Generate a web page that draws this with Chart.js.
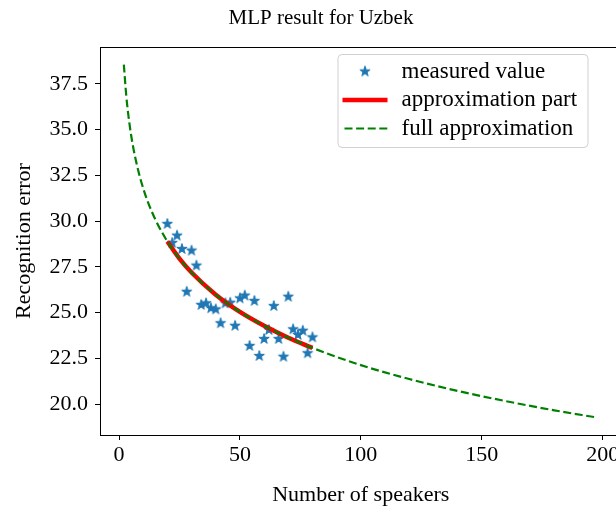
<!DOCTYPE html>
<html><head><meta charset="utf-8">
<script src="https://cdn.jsdelivr.net/npm/chart.js@4/dist/chart.umd.min.js"></script>
<style>
html,body{margin:0;padding:0;background:#fff;overflow:hidden;width:616px;height:506px}
#wrap{width:642px;height:506px;position:relative}
</style></head><body>
<div id="wrap"><canvas id="c" width="642" height="506" style="width:642px;height:506px"></canvas></div>
<script>
const titleText = 'MLP result for Uzbek';
const xLabel = 'Number of speakers';
const yLabel = 'Recognition error';
const seriesNames = ['measured value', 'approximation part', 'full approximation'];

const measuredX = [20,22,24,26,28,30,32,34,36,38,40,42,44,46,48,50,52,54,56,58,60,62,64,66,68,70,72,74,76,78,80];
const measuredY = [29.85,28.81,29.21,28.48,26.14,28.39,27.57,25.42,25.51,25.24,25.18,24.42,25.51,25.54,24.28,25.78,25.93,23.18,25.64,22.63,23.56,24.05,25.36,23.56,22.59,25.87,24.09,23.78,24.01,22.78,23.65];

const partX = [20,25,30,40,50,60,70,80];
const partY = [28.89,27.95,27.19,25.98,25.04,24.28,23.63,23.07];

const fullX = [2,3,4,5,6,8,10,12,15,20,25,30,40,50,60,70,80,100,120,140,160,180,197];
const fullY = [38.56,36.86,35.65,34.71,33.94,32.74,31.80,31.03,30.10,28.89,27.95,27.19,25.98,25.04,24.28,23.63,23.07,22.13,21.37,20.72,20.16,19.66,19.28];

const xTicks = [0,50,100,150,200];
const yTicks = [20,22.5,25,27.5,30,32.5,35,37.5];

const FONT = 'Liberation Serif';
const C_BLUE = '#1f77b4', C_RED = '#ff0000', C_GREEN = '#008000';

function makeStar(r, color){
  const s = Math.ceil(r*2+4) + (Math.ceil(r*2+4) % 2);
  const c = document.createElement('canvas'); c.width = s; c.height = s;
  const g = c.getContext('2d');
  g.beginPath();
  for (let i = 0; i < 10; i++){
    const rad = i % 2 === 0 ? r : r*0.382;
    const a = -Math.PI/2 + i*Math.PI/5;
    const px = s/2 + rad*Math.cos(a), py = s/2 + rad*Math.sin(a);
    if (i === 0) g.moveTo(px, py); else g.lineTo(px, py);
  }
  g.closePath(); g.fillStyle = color; g.fill();
  g.lineWidth = 1; g.strokeStyle = color; g.stroke();
  return c;
}
const star = makeStar(5.4, C_BLUE);

const pts = (xs, ys) => xs.map((x, i) => ({x, y: ys[i]}));

const framePlugin = {
  id: 'frame',
  afterDatasetsDraw(chart){
    const {ctx, chartArea: a} = chart;
    ctx.save();
    ctx.strokeStyle = '#000'; ctx.lineWidth = 1;
    ctx.strokeRect(Math.round(a.left)+0.5, Math.round(a.top)+0.5, Math.round(a.right-a.left), Math.round(a.bottom-a.top));
    ctx.restore();
  }
};

const legendPlugin = {
  id: 'mplLegend',
  afterDraw(chart){
    const {ctx, chartArea: a} = chart;
    const bx = a.right - 284, by = a.top + 7, bw = 250, bh = 93;
    ctx.save();
    ctx.beginPath();
    ctx.roundRect(bx+0.5, by+0.5, bw, bh, 4);
    ctx.fillStyle = 'rgba(255,255,255,0.8)'; ctx.fill();
    ctx.strokeStyle = '#d0d0d0'; ctx.lineWidth = 1; ctx.stroke();
    const rows = [by+17.5, by+46, by+74.5];
    const hx0 = bx + 5, hx1 = bx + 50, tx = bx + 64;
    ctx.drawImage(star, (hx0+hx1)/2 - star.width/2, rows[0] - star.height/2);
    ctx.beginPath(); ctx.moveTo(hx0, rows[1]); ctx.lineTo(hx1, rows[1]);
    ctx.strokeStyle = C_RED; ctx.lineWidth = 4.5; ctx.stroke();
    ctx.beginPath(); ctx.setLineDash([8,3.6]); ctx.moveTo(hx0+2, rows[2]); ctx.lineTo(hx1, rows[2]);
    ctx.strokeStyle = C_GREEN; ctx.lineWidth = 2.2; ctx.stroke(); ctx.setLineDash([]);
    ctx.fillStyle = '#000'; ctx.font = '23px "' + FONT + '"'; ctx.textBaseline = 'middle'; ctx.textAlign = 'left';
    seriesNames.forEach((n, i) => ctx.fillText(n, tx, rows[i]));
    ctx.restore();
  }
};

const titleFix = {
  id: 'titleFix',
  afterLayout(chart){
    if (chart.titleBlock){ chart.titleBlock.left = 0; chart.titleBlock.right = chart.width; }
  }
};

new Chart(document.getElementById('c'), {
  type: 'scatter',
  data: {
    datasets: [
      { label: seriesNames[2], data: pts(fullX, fullY), showLine: true, borderColor: C_GREEN, borderWidth: 2.2,
        borderDash: [8,3.6], pointRadius: 0, fill: false, cubicInterpolationMode: 'monotone', order: 0 },
      { label: seriesNames[1], data: pts(partX, partY), showLine: true, borderColor: C_RED, borderWidth: 4.5,
        pointRadius: 0, fill: false, cubicInterpolationMode: 'monotone', order: 1 },
      { label: seriesNames[0], data: pts(measuredX, measuredY), showLine: false, pointStyle: star,
        pointRadius: 5, backgroundColor: C_BLUE, borderColor: C_BLUE, order: 2 }
    ]
  },
  options: {
    responsive: false, animation: false, devicePixelRatio: 1, events: [],
    layout: { padding: { top: 0, left: 0, right: 20.5, bottom: 0 } },
    plugins: {
      legend: { display: false },
      tooltip: { enabled: false },
      title: { display: true, text: titleText, color: '#000',
        font: { family: FONT, size: 21, weight: 'normal', lineHeight: 1.2 },
        padding: { top: 5.5, bottom: 16.3 } }
    },
    scales: {
      x: {
        type: 'linear', min: -7.86, max: 207.8,
        afterFit(s){ s.height = 71; },
        afterBuildTicks(s){ s.ticks = xTicks.map(v => ({value: v})); },
        ticks: { color: '#000', font: { family: FONT, size: 22 }, padding: 2, maxRotation: 0, autoSkip: false,
          callback: v => String(v) },
        grid: { drawOnChartArea: false, drawTicks: true, tickLength: 5, color: '#000', tickColor: '#000', tickWidth: 1 },
        border: { display: false },
        title: { display: true, text: xLabel, color: '#000', font: { family: FONT, size: 22, lineHeight: 1 },
          padding: { top: 0, bottom: 0 } }
      },
      y: {
        type: 'linear', min: 18.31, max: 39.52,
        afterFit(s){ s.width = 100; },
        afterBuildTicks(s){ s.ticks = yTicks.map(v => ({value: v})); },
        ticks: { color: '#000', font: { family: FONT, size: 22 }, padding: 7, autoSkip: false,
          callback: v => Number(v).toFixed(1) },
        grid: { drawOnChartArea: false, drawTicks: true, tickLength: 5, color: '#000', tickColor: '#000', tickWidth: 1 },
        border: { display: false },
        title: { display: true, text: yLabel, color: '#000', font: { family: FONT, size: 22, lineHeight: 1 },
          padding: { top: 13, bottom: 0 } }
      }
    }
  },
  plugins: [framePlugin, legendPlugin, titleFix]
});
</script>
</body></html>
